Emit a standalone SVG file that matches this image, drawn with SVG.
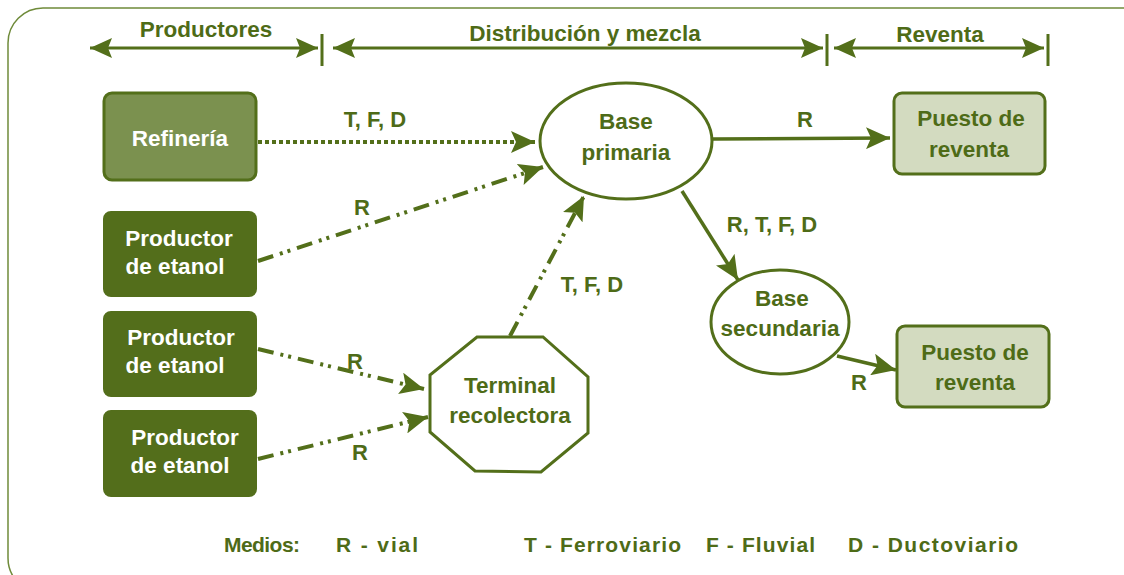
<svg xmlns="http://www.w3.org/2000/svg" width="1124" height="575" viewBox="0 0 1124 575">
<style>
.t{font-family:"Liberation Sans",Arial,sans-serif;font-weight:bold;fill:#4e6b17}
.w{font-family:"Liberation Sans",Arial,sans-serif;font-weight:bold;fill:#ffffff;font-size:22.5px;text-anchor:middle}
.g{font-family:"Liberation Sans",Arial,sans-serif;font-weight:bold;fill:#4e6b17;font-size:22.5px;text-anchor:middle}
.lbl{font-size:22px;text-anchor:middle}
.hdr{font-size:22.5px;text-anchor:middle}
.leg{font-size:21px}
.c{fill:none;stroke:#536f1a;stroke-width:3.5}
.dot{stroke-dasharray:4 3;stroke-width:4}
.dd{stroke-dasharray:16 7 3 5 3 7;stroke-width:4}
.h{fill:none;stroke:#536f1a;stroke-width:3}
</style>
<defs>
<marker id="ah" markerUnits="userSpaceOnUse" markerWidth="26" markerHeight="22" viewBox="0 0 26 22" refX="24" refY="11" orient="auto">
<path d="M0,0 L24,11 L0,22 L5,11 z" fill="#536f1a"/>
</marker>
<marker id="hh" markerUnits="userSpaceOnUse" markerWidth="24" markerHeight="20" viewBox="0 0 24 20" refX="22" refY="10" orient="auto-start-reverse">
<path d="M0,0 L22,10 L0,20 L4,10 z" fill="#536f1a"/>
</marker>
</defs>
<rect x="8" y="8" width="1160" height="585" rx="35" fill="none" stroke="#6f8b3a" stroke-width="1.5"/>
<g id="header">
<text class="t hdr" x="206" y="37">Productores</text>
<text class="t hdr" x="585" y="41">Distribución y mezcla</text>
<text class="t hdr" x="940" y="42">Reventa</text>
<line class="h" x1="90" y1="48" x2="318" y2="48" marker-start="url(#hh)" marker-end="url(#hh)"/>
<line class="h" x1="333" y1="48" x2="823" y2="48" marker-start="url(#hh)" marker-end="url(#hh)"/>
<line class="h" x1="834" y1="48" x2="1044" y2="48" marker-start="url(#hh)" marker-end="url(#hh)"/>
<line class="h" x1="322" y1="34" x2="322" y2="66"/>
<line class="h" x1="827" y1="34" x2="827" y2="66"/>
<line class="h" x1="1048" y1="34" x2="1048" y2="66"/>
</g>
<g id="connectors">
<line class="c dot" x1="258" y1="142" x2="535" y2="142" marker-end="url(#ah)"/>
<line class="c dd" x1="258" y1="261" x2="543" y2="167" marker-end="url(#ah)"/>
<line class="c dd" x1="510" y1="336" x2="584" y2="196" marker-end="url(#ah)"/>
<line class="c dd" x1="258" y1="349" x2="424" y2="389" marker-end="url(#ah)"/>
<line class="c dd" x1="258" y1="459" x2="428" y2="417" marker-end="url(#ah)"/>
<line class="c" x1="713" y1="139" x2="890" y2="138" marker-end="url(#ah)"/>
<line class="c" x1="682" y1="191" x2="738" y2="280" marker-end="url(#ah)"/>
<line class="c" x1="837" y1="356" x2="896" y2="370" marker-end="url(#ah)"/>
<text class="t lbl" x="375" y="127">T, F, D</text>
<text class="t lbl" x="362" y="215">R</text>
<text class="t lbl" x="592" y="292">T, F, D</text>
<text class="t lbl" x="355" y="369">R</text>
<text class="t lbl" x="360" y="460">R</text>
<text class="t lbl" x="805" y="127">R</text>
<text class="t lbl" x="772" y="232">R, T, F, D</text>
<text class="t lbl" x="859" y="390">R</text>
</g>
<g id="refineria">
<rect x="104" y="93" width="152" height="87" rx="8" fill="#7b914f" stroke="#536f1a" stroke-width="3"/>
<text class="w" x="180" y="146">Refinería</text>
</g>
<g id="productor1">
<rect x="103" y="211" width="154" height="86" rx="8" fill="#536e1b"/>
<text class="w" x="179" y="246">Productor</text>
<text class="w" x="175" y="274">de etanol</text>
</g>
<g id="productor2">
<rect x="103" y="311" width="154" height="86" rx="8" fill="#536e1b"/>
<text class="w" x="181" y="345">Productor</text>
<text class="w" x="175" y="373">de etanol</text>
</g>
<g id="productor3">
<rect x="103" y="410" width="154" height="87" rx="8" fill="#536e1b"/>
<text class="w" x="185" y="445">Productor</text>
<text class="w" x="180" y="473">de etanol</text>
</g>
<g id="base-primaria">
<ellipse cx="626" cy="141" rx="86" ry="58" fill="#ffffff" stroke="#536f1a" stroke-width="3"/>
<text class="g" x="626" y="129">Base</text>
<text class="g" x="626" y="160">primaria</text>
</g>
<g id="base-secundaria">
<ellipse cx="780" cy="322" rx="69" ry="52" fill="#ffffff" stroke="#536f1a" stroke-width="3"/>
<text class="g" x="782" y="306">Base</text>
<text class="g" x="780" y="336">secundaria</text>
</g>
<g id="terminal">
<polygon points="477,337 543,337 588,377 588,433 541,472 475,471 430,432 430,375" fill="#ffffff" stroke="#536f1a" stroke-width="3"/>
<text class="g" x="510" y="393">Terminal</text>
<text class="g" x="510" y="423">recolectora</text>
</g>
<g id="puesto1">
<rect x="894" y="93" width="151" height="81" rx="8" fill="#d3dbc0" stroke="#536f1a" stroke-width="3"/>
<text class="g" x="971" y="126">Puesto de</text>
<text class="g" x="969" y="157">reventa</text>
</g>
<g id="puesto2">
<rect x="897" y="326" width="152" height="81" rx="8" fill="#d3dbc0" stroke="#536f1a" stroke-width="3"/>
<text class="g" x="975" y="360">Puesto de</text>
<text class="g" x="975" y="390">reventa</text>
</g>
<g id="legend">
<text class="t leg" x="224" y="552" textLength="76" lengthAdjust="spacing">Medios:</text>
<text class="t leg" x="336" y="552" textLength="82" lengthAdjust="spacing">R - vial</text>
<text class="t leg" x="524" y="552" textLength="157" lengthAdjust="spacing">T - Ferroviario</text>
<text class="t leg" x="706" y="552" textLength="109" lengthAdjust="spacing">F - Fluvial</text>
<text class="t leg" x="848" y="552" textLength="170" lengthAdjust="spacing">D - Ductoviario</text>
</g>
</svg>
